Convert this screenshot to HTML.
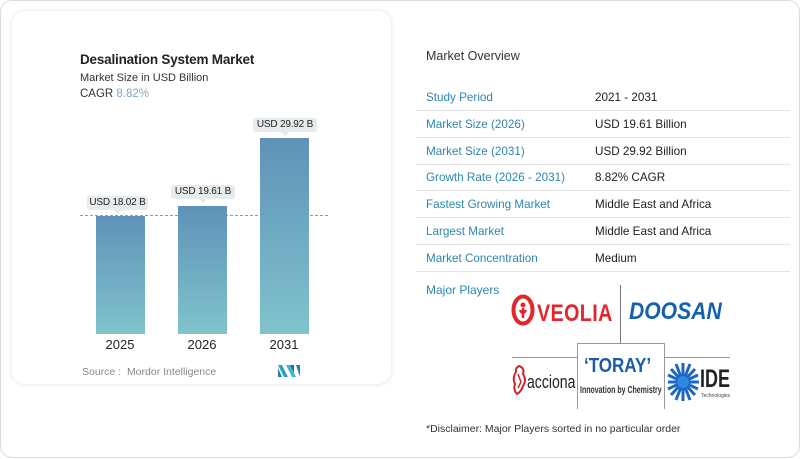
<!DOCTYPE html>
<html><head><meta charset="utf-8">
<style>
*{margin:0;padding:0;box-sizing:border-box}
html,body{width:800px;height:459px;background:#fff;overflow:hidden;font-family:"Liberation Sans",sans-serif}
.outer{position:absolute;left:0;top:0;width:800px;height:458px;border:1.5px solid #dcdcdc;border-radius:12px;background:#fff}
.card{position:absolute;left:11px;top:10px;width:381px;height:375px;border-radius:14px;background:#fff;box-shadow:0 0 6px rgba(0,0,0,0.07);border:1px solid #f0f0f0}
.abs{position:absolute;white-space:nowrap}
.bar{position:absolute;width:49px;background:linear-gradient(#5f92b8,#80c3cc)}
.lbl{position:absolute;height:14px;background:#e6ebee;border-radius:3px;font-size:10px;letter-spacing:-0.2px;color:#222;text-align:center;line-height:14px;white-space:nowrap}
.lbl:after{content:"";position:absolute;left:50%;bottom:-4px;margin-left:-4px;border-left:4px solid transparent;border-right:4px solid transparent;border-top:4px solid #e6ebee}
.yr{position:absolute;font-size:13px;color:#222;width:60px;text-align:center}
.row{position:absolute;left:416px;width:374px;height:27px;border-bottom:1.5px solid #e4e4e4}
.row .k{position:absolute;left:10px;top:7px;font-size:11.7px;color:#2e86b0;white-space:nowrap}
.row .v{position:absolute;left:179px;top:7px;font-size:11.7px;color:#222;white-space:nowrap}
</style></head><body>
<div class="outer"></div>
<div class="card"></div>
<div class="abs" style="left:80px;top:52px;font-size:13.5px;font-weight:bold;color:#222;letter-spacing:-0.2px">Desalination System Market</div>
<div class="abs" style="left:80px;top:72px;font-size:11px;color:#333">Market Size in USD Billion</div>
<div class="abs" style="left:80px;top:88px;font-size:11.5px;color:#333">CAGR <span style="color:#7fa8c6">8.82%</span></div>

<div class="abs" style="left:80px;top:215px;width:248px;border-top:1px dashed #999"></div>
<div class="bar" style="left:96px;top:216px;height:118px"></div>
<div class="bar" style="left:178px;top:206px;height:128px"></div>
<div class="bar" style="left:260px;top:138px;height:196px"></div>
<div class="lbl" style="left:87px;top:196px;width:61px">USD 18.02 B</div>
<div class="lbl" style="left:171px;top:185px;width:64px">USD 19.61 B</div>
<div class="lbl" style="left:253px;top:118px;width:64px">USD 29.92 B</div>
<div class="yr" style="left:90px;top:337px">2025</div>
<div class="yr" style="left:172px;top:337px">2026</div>
<div class="yr" style="left:254px;top:337px">2031</div>
<div class="abs" style="left:82px;top:366px;font-size:10.5px;color:#888">Source :&nbsp; Mordor Intelligence</div>
<svg class="abs" style="left:278px;top:365px" width="23" height="12" viewBox="0 0 23 12">
<polygon points="0,0 4,0 10,12 6,12" fill="#2a9fc4"/><polygon points="0,3 4,12 0,12" fill="#2a7ea8"/>
<polygon points="8,0 12,0 18,12 14,12" fill="#45b6d2"/><polygon points="18,0 22,0 22,12" fill="#2a7ea8"/>
<polygon points="12,0 16,0 16,8" fill="#1f6f96"/>
</svg>

<div class="abs" style="left:426px;top:49px;font-size:12.5px;color:#333">Market Overview</div>
<div class="row" style="top:84px"><span class="k">Study Period</span><span class="v">2021 - 2031</span></div>
<div class="row" style="top:111px"><span class="k">Market Size (2026)</span><span class="v">USD 19.61 Billion</span></div>
<div class="row" style="top:138px"><span class="k">Market Size (2031)</span><span class="v">USD 29.92 Billion</span></div>
<div class="row" style="top:164px"><span class="k">Growth Rate (2026 - 2031)</span><span class="v">8.82% CAGR</span></div>
<div class="row" style="top:191px"><span class="k">Fastest Growing Market</span><span class="v">Middle East and Africa</span></div>
<div class="row" style="top:218px"><span class="k">Largest Market</span><span class="v">Middle East and Africa</span></div>
<div class="row" style="top:245px"><span class="k">Market Concentration</span><span class="v">Medium</span></div>
<div class="abs" style="left:426px;top:283px;font-size:12px;color:#2e86b0">Major Players</div>

<!-- logos -->
<div class="abs" style="left:620px;top:285px;width:1px;height:58px;background:#777"></div>
<div class="abs" style="left:512px;top:357px;width:65px;height:1px;background:#999"></div>
<div class="abs" style="left:664px;top:357px;width:66px;height:1px;background:#999"></div>
<div class="abs" style="left:577px;top:343px;width:88px;height:66px;border:1px solid #999;border-bottom:none"></div>
<svg class="abs" style="left:511px;top:294px" width="24" height="32" viewBox="0 0 24 32">
<ellipse cx="12" cy="16" rx="9.5" ry="13.5" fill="none" stroke="#e2262b" stroke-width="4"/>
<circle cx="12" cy="11" r="2.5" fill="#e2262b"/><path d="M12 14 L12 24 M9 16 Q12 22 15 16" stroke="#e2262b" stroke-width="2.5" fill="none"/>
</svg>
<div class="abs" style="left:537px;top:300px;font-size:24px;font-weight:bold;color:#e2262b;transform:scaleX(0.82);transform-origin:left top;letter-spacing:0.5px">VEOLIA</div>
<div class="abs" style="left:629px;top:298px;font-size:24px;font-weight:bold;font-style:italic;color:#1461ad;transform:scaleX(0.88);transform-origin:left top">DOOSAN</div>
<div class="abs" style="left:584px;top:355px;font-size:20px;font-weight:bold;color:#1a5aa8;transform:scaleX(0.85);transform-origin:left top">‘TORAY’</div>
<div class="abs" style="left:580px;top:385px;font-size:10px;font-weight:bold;color:#333;transform:scaleX(0.7);transform-origin:left top">Innovation by Chemistry</div>
<svg class="abs" style="left:511px;top:364px" width="17" height="32" viewBox="0 0 17 32">
<path d="M8 2 Q14 4 12 10 Q16 16 12 22 Q10 28 6 30 Q2 26 4 20 Q1 14 5 8 Q4 4 8 2Z" fill="none" stroke="#d0262b" stroke-width="2"/>
<path d="M7 10 L10 18 L7 24" stroke="#d0262b" stroke-width="1.5" fill="none"/>
</svg>
<div class="abs" style="left:527px;top:372px;font-size:18px;color:#222;transform:scaleX(0.78);transform-origin:left top">acciona</div>
<svg class="abs" style="left:666px;top:361px" width="35" height="42" viewBox="0 0 35 42">
<g stroke="#1e66c4" stroke-width="3">
<line x1="17" y1="2" x2="17" y2="40"/><line x1="2" y1="21" x2="33" y2="21"/>
<line x1="5" y1="8" x2="29" y2="34"/><line x1="29" y1="8" x2="5" y2="34"/>
<line x1="10" y1="3" x2="24" y2="39"/><line x1="24" y1="3" x2="10" y2="39"/>
<line x1="2" y1="14" x2="32" y2="28"/><line x1="32" y1="14" x2="2" y2="28"/>
</g><circle cx="17" cy="21" r="6" fill="#2d8ae0"/>
</svg>
<div class="abs" style="left:700px;top:365px;font-size:25px;font-weight:bold;color:#222;transform:scaleX(0.72);transform-origin:left top">IDE</div>
<div class="abs" style="left:701px;top:393px;font-size:5px;color:#444">Technologies</div>

<div class="abs" style="left:426px;top:423px;font-size:10.5px;color:#333">*Disclaimer: Major Players sorted in no particular order</div>
</body></html>
